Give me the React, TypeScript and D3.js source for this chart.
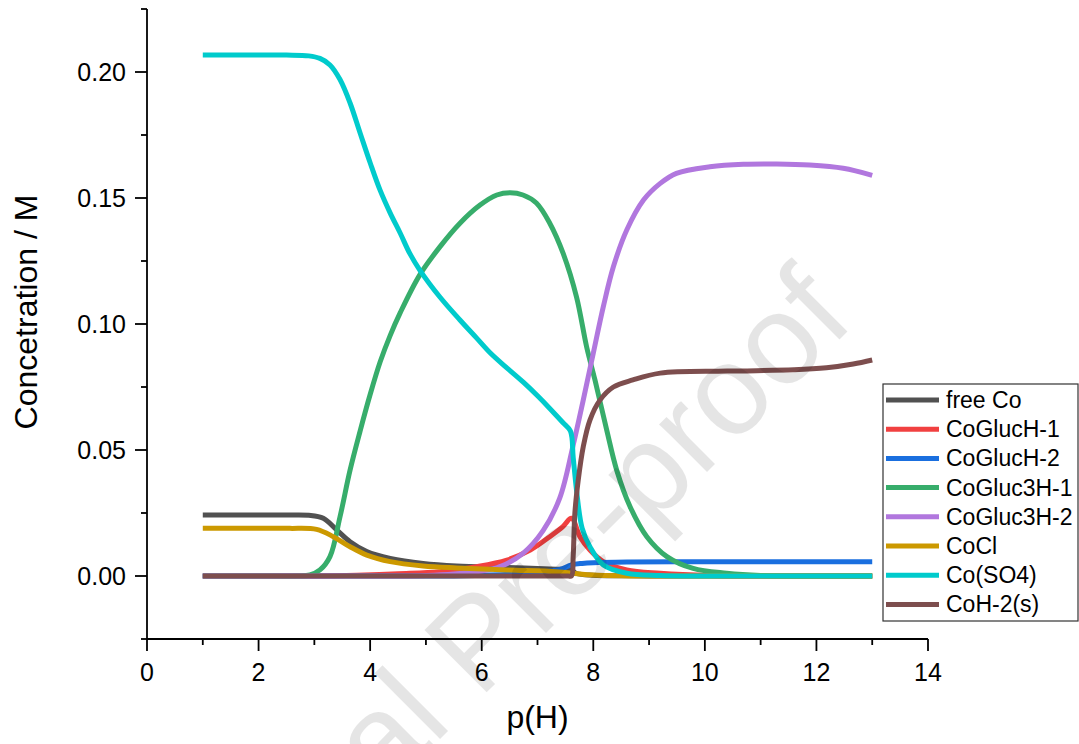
import React from "react";
import * as d3 from "d3";

// ---- data ----
const xTicks = [0, 2, 4, 6, 8, 10, 12, 14];
const yTicks = [0.0, 0.05, 0.1, 0.15, 0.2];
const yTickLabels = ["0.00", "0.05", "0.10", "0.15", "0.20"];

const seriesNames = ["free Co", "CoGlucH-1", "CoGlucH-2", "CoGluc3H-1", "CoGluc3H-2", "CoCl", "Co(SO4)", "CoH-2(s)"];
const seriesColors = ["#515151", "#F14040", "#1A6FDF", "#37AD6B", "#B177DE", "#CC9900", "#00CBCC", "#7D4E4E"];

const freeCoPH = [1, 2.0, 2.5, 2.9, 3.16, 3.4, 3.64, 3.94, 4.36, 4.95, 5.55, 6.45, 7.34, 7.6, 7.7, 8.0, 8.5, 9.0, 11, 13];
const freeCoC = [0.0242, 0.0242, 0.0242, 0.0241, 0.0229, 0.0183, 0.0136, 0.0097, 0.007, 0.005, 0.004, 0.0034, 0.0027, 0.0025, 0.001, 0.0003, 0.0001, 0, 0, 0];

const glucH1PH = [1, 2.0, 3.0, 3.76, 4.5, 5.25, 5.91, 6.45, 6.87, 7.22, 7.45, 7.61, 7.76, 7.94, 8.18, 8.6, 9.2, 10.1, 11, 12, 13];
const glucH1C = [0, 0, 0, 0.0003, 0.0009, 0.0017, 0.0037, 0.0063, 0.0103, 0.0156, 0.0195, 0.0229, 0.0156, 0.0103, 0.0057, 0.0024, 0.0011, 0.0002, 0, 0, 0];

const glucH2PH = [1, 3.0, 5.5, 6.0, 6.5, 7.0, 7.4, 7.61, 7.8, 8.0, 8.6, 9.5, 11, 13];
const glucH2C = [0, 0, 0, 0.0003, 0.0007, 0.0015, 0.0026, 0.0044, 0.005, 0.0053, 0.0056, 0.0057, 0.0057, 0.0057];

const gluc3H1PH = [1, 2.0, 2.7, 2.92, 3.1, 3.28, 3.46, 3.64, 3.82, 4.0, 4.18, 4.36, 4.54, 4.89, 5.25, 5.61, 5.97, 6.27, 6.51, 6.74, 6.98, 7.22, 7.46, 7.7, 7.88, 8.03, 8.24, 8.42, 8.66, 8.96, 9.32, 9.79, 10.39, 11, 12, 13];
const gluc3H1C = [0, 0, 0, 0.0004, 0.0024, 0.0077, 0.0235, 0.042, 0.0575, 0.072, 0.085, 0.0955, 0.1045, 0.1195, 0.1306, 0.14, 0.1472, 0.1512, 0.1521, 0.1512, 0.148, 0.14, 0.128, 0.1107, 0.091, 0.0778, 0.058, 0.042, 0.0275, 0.0156, 0.0077, 0.003, 0.0011, 0.0002, 0, 0];

const gluc3H2PH = [1, 3.0, 4.5, 5.0, 5.5, 6.0, 6.33, 6.74, 7.1, 7.4, 7.64, 7.82, 8.0, 8.18, 8.36, 8.6, 8.9, 9.2, 9.49, 10.09, 10.69, 11.29, 11.88, 12.48, 13];
const gluc3H2C = [0, 0, 0, 0.0002, 0.0008, 0.002, 0.0037, 0.009, 0.018, 0.031, 0.052, 0.0698, 0.0884, 0.1069, 0.1227, 0.1373, 0.1492, 0.1558, 0.1598, 0.1624, 0.1634, 0.1635, 0.1631, 0.1618, 0.159];

const coClPH = [1, 2.0, 2.56, 3.04, 3.34, 3.64, 3.94, 4.36, 4.95, 5.55, 6.45, 7.34, 7.64, 7.8, 8.0, 8.5, 9.0, 11, 13];
const coClC = [0.0189, 0.0189, 0.0189, 0.0185, 0.0156, 0.0116, 0.0083, 0.0057, 0.004, 0.0032, 0.0024, 0.0017, 0.0011, 0.0007, 0.0004, 0.0001, 0, 0, 0];

const coSO4PH = [1, 2.0, 2.5, 2.9, 3.1, 3.28, 3.46, 3.64, 3.82, 4.0, 4.18, 4.36, 4.54, 4.71, 4.89, 5.25, 5.61, 5.91, 6.15, 6.45, 6.75, 7.0, 7.22, 7.45, 7.59, 7.64, 7.7, 7.8, 7.94, 8.18, 8.6, 9.2, 10, 11.5, 13];
const coSO4C = [0.2067, 0.2067, 0.2067, 0.2064, 0.2054, 0.2028, 0.197, 0.1877, 0.1758, 0.164, 0.153, 0.144, 0.136, 0.128, 0.1214, 0.1107, 0.1016, 0.0944, 0.0886, 0.0826, 0.0768, 0.0715, 0.0665, 0.061, 0.0575, 0.047, 0.034, 0.019, 0.0116, 0.0044, 0.0011, 0.0002, 0, 0, 0];

const coH2sPH = [1, 4.0, 7.0, 7.55, 7.61, 7.64, 7.67, 7.73, 7.82, 7.94, 8.12, 8.36, 8.71, 9.2, 10.4, 11.6, 12.18, 12.66, 13];
const coH2sC = [0, 0, 0, 0, 0, 0.008, 0.025, 0.038, 0.0513, 0.0619, 0.0698, 0.075, 0.0778, 0.0805, 0.0813, 0.0818, 0.0826, 0.0841, 0.0857];

const seriesPH = [freeCoPH, glucH1PH, glucH2PH, gluc3H1PH, gluc3H2PH, coClPH, coSO4PH, coH2sPH];
const seriesC = [freeCoC, glucH1C, glucH2C, gluc3H1C, gluc3H2C, coClC, coSO4C, coH2sC];

export default function App() {
  const W = 1079, H = 744;
  const left = 147, right = 928, top = 9, bottom = 639;
  const x = d3.scaleLinear().domain([0, 14]).range([left, right]);
  const y = d3.scaleLinear().domain([-0.025, 0.225]).range([bottom, top]);
  const line = d3.line<[number, number]>().x(d => x(d[0])).y(d => y(d[1])).curve(d3.curveCatmullRom.alpha(0.5));

  const xMinor = d3.range(1, 14, 2);
  const yMinor = d3.range(-0.025, 0.226, 0.05);
  const font = "Arial, 'Liberation Sans', Helvetica, sans-serif";
  const axisW = 1.8;

  const legX = 883, legY = 384, legW = 195, legH = 237, rowH = 29.2;

  return (
    <svg width={W} height={H} style={{ position: "absolute", left: 0, top: 0, background: "#fff" }} fontFamily={font}>
      <rect x={0} y={0} width={W} height={H} fill="#fff" />
      {/* series */}
      {seriesNames.map((name, i) => {
        const pts = seriesPH[i].map((p, k) => [p, seriesC[i][k]] as [number, number]);
        return <path key={name} d={line(pts) || ""} fill="none" stroke={seriesColors[i]} strokeWidth={5} strokeLinejoin="round" />;
      })}
      {/* axes */}
      <line x1={left} x2={left} y1={top} y2={bottom} stroke="#000" strokeWidth={axisW} />
      <line x1={left} x2={right} y1={bottom} y2={bottom} stroke="#000" strokeWidth={axisW} />
      {xTicks.map(t => (
        <g key={"xt" + t}>
          <line x1={x(t)} x2={x(t)} y1={bottom} y2={bottom + 12} stroke="#000" strokeWidth={axisW} />
          <text x={x(t)} y={681} fontSize={25} textAnchor="middle" fill="#000">{t}</text>
        </g>
      ))}
      {xMinor.map(t => (
        <line key={"xm" + t} x1={x(t)} x2={x(t)} y1={bottom} y2={bottom + 6} stroke="#000" strokeWidth={axisW} />
      ))}
      {yTicks.map((t, i) => (
        <g key={"yt" + t}>
          <line x1={left - 12} x2={left} y1={y(t)} y2={y(t)} stroke="#000" strokeWidth={axisW} />
          <text x={126} y={y(t) + 9} fontSize={25} textAnchor="end" fill="#000">{yTickLabels[i]}</text>
        </g>
      ))}
      {yMinor.map(t => (
        <line key={"ym" + t} x1={left - 6} x2={left} y1={y(t)} y2={y(t)} stroke="#000" strokeWidth={axisW} />
      ))}
      {/* axis titles */}
      <text x={537.5} y={728} fontSize={32} textAnchor="middle" fill="#000">p(H)</text>
      <text transform={`translate(37,312) rotate(-90)`} fontSize={32} textAnchor="middle" fill="#000">Concetration / M</text>
      {/* legend */}
      <rect x={legX} y={legY} width={legW} height={legH} fill="#fff" stroke="#333" strokeWidth={1.2} />
      {seriesNames.map((name, i) => {
        const cy = 400 + i * rowH;
        return (
          <g key={"lg" + name}>
            <line x1={886} x2={939} y1={cy} y2={cy} stroke={seriesColors[i]} strokeWidth={5} />
            <text x={946} y={cy + 8} fontSize={23} fill="#000">{name}</text>
          </g>
        );
      })}
      {/* watermark */}
      <text transform="translate(507,672) rotate(-45)" fontSize={128} textAnchor="middle" fill="#000" fillOpacity={0.1}>Journal Pre-proof</text>
    </svg>
  );
}
